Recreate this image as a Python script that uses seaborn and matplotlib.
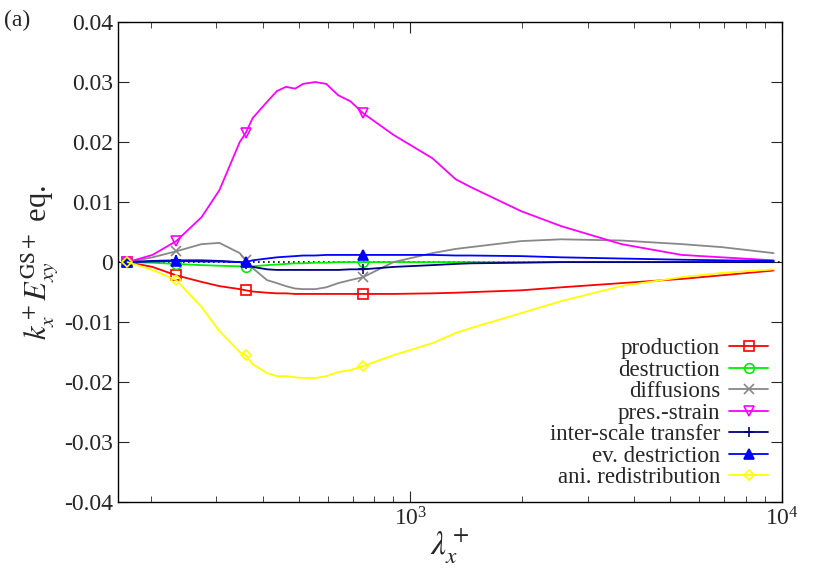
import numpy as np
import pandas as pd
import matplotlib
matplotlib.use("Agg")
import matplotlib.pyplot as plt
import seaborn as sns

sns.set_style("ticks")
plt.rcParams['font.family'] = 'Liberation Serif'
plt.rcParams['mathtext.fontset'] = 'stix'

lam = [173, 202, 234, 274, 306, 347, 360, 376, 411, 437, 462, 489, 514, 554,
       593, 639, 689, 746, 900, 1146, 1324, 1453, 1984, 2544, 3696, 5370, 6883, 9500]

production = [0, -0.0008, -0.0022, -0.0033, -0.0040, -0.0045, -0.0047, -0.0049, -0.0051, -0.0052,
              -0.0052, -0.0053, -0.0053, -0.0053, -0.0053, -0.0053, -0.0053, -0.0053, -0.0053, -0.0052,
              -0.0051, -0.0050, -0.0047, -0.0042, -0.0035, -0.0028, -0.0022, -0.0014]
destruction = [0, -0.0001, -0.0003, -0.0005, -0.0006, -0.0007, -0.0008, -0.0007, -0.0005, -0.0004,
               -0.0003, -0.0002, -0.0002, -0.0001, -0.0001, 0, 0, 0, 0, 0, 0, 0, 0, 0, 0, 0, 0, 0]
diffusions = [0, 0.0008, 0.0018, 0.0030, 0.0032, 0.0015, 0.0003, -0.0010, -0.0030, -0.0035,
              -0.0040, -0.0044, -0.0045, -0.0045, -0.0042, -0.0035, -0.0030, -0.0025, 0.0, 0.0015,
              0.0022, 0.0025, 0.0035, 0.0038, 0.0036, 0.0030, 0.0025, 0.0015]
pres_strain = [0, 0.0012, 0.0035, 0.0075, 0.012, 0.020, 0.0215, 0.024, 0.0267, 0.0285,
               0.0292, 0.0289, 0.0297, 0.030, 0.0297, 0.0278, 0.0268, 0.0248, 0.0212, 0.0173,
               0.0138, 0.0125, 0.0085, 0.006, 0.003, 0.0012, 0.0008, 0.0003]
inter_scale = [0, 0.0002, 0.0003, 0.0003, 0.0002, 0.0, -0.0003, -0.0008, -0.0012, -0.0013,
               -0.0013, -0.0013, -0.0013, -0.0013, -0.0013, -0.0013, -0.0012, -0.0012, -0.0008, -0.0005,
               -0.0003, -0.0002, -0.0001, 0, 0, 0, 0, 0]
ev_destriction = [0, 0.0001, 0.0002, 0.0001, 0.0001, 0.0, 0.0, 0.0003, 0.0006, 0.0008,
                  0.0009, 0.0010, 0.0011, 0.0011, 0.0012, 0.0012, 0.0012, 0.0012, 0.0012, 0.0012,
                  0.0011, 0.0011, 0.0010, 0.0008, 0.0006, 0.0004, 0.0003, 0.0002]
ani_redistribution = [0, -0.0013, -0.0030, -0.0075, -0.0115, -0.0150, -0.0155, -0.0170, -0.0185, -0.0190,
                      -0.0190, -0.0192, -0.0193, -0.0193, -0.0190, -0.0183, -0.0180, -0.0173, -0.0155, -0.0135,
                      -0.0118, -0.0110, -0.0085, -0.0065, -0.0040, -0.0025, -0.0018, -0.0012]

series = [
    ("production", production, "#ff0000", "s", "none"),
    ("destruction", destruction, "#00ee00", "o", "none"),
    ("diffusions", diffusions, "#888888", "x", "none"),
    ("pres.-strain", pres_strain, "#ff00ff", "v", "none"),
    ("inter-scale transfer", inter_scale, "#000080", "+", "none"),
    ("ev. destriction", ev_destriction, "#0000ff", "^", "full"),
    ("ani. redistribution", ani_redistribution, "#ffff00", "D", "none"),
]

fig = plt.figure(figsize=(8.3, 5.72), dpi=100)
ax = fig.add_axes([0.142, 0.122, 0.8, 0.8395])

ax.axhline(0, color="black", ls=(0, (1, 2)), lw=1.2, zorder=1)
for name, vals, col, mk, fill in series:
    df = pd.DataFrame({"lam": lam, "v": vals})
    kw = dict(markerfacecolor="none") if fill == "none" else dict(markerfacecolor=col)
    sns.lineplot(data=df, x="lam", y="v", ax=ax, color=col, lw=1.3, label=name,
                 marker=mk, markersize=7 if mk != "D" else 5, markeredgecolor=col,
                 markeredgewidth=1.2, markevery=[0, 2, 6, 17], **kw)

ax.set_xscale("log")
ax.set_xlim(163, 1.0e4)
ax.set_ylim(-0.04, 0.04)
ax.set_yticks(np.arange(-0.04, 0.041, 0.01))
ax.set_yticklabels(["-0.04", "-0.03", "-0.02", "-0.01", "0", "0.01", "0.02", "0.03", "0.04"])
ax.tick_params(which="both", direction="in", top=True, right=True, labelsize=17)
ax.tick_params(which="major", length=8)
ax.tick_params(which="minor", length=4)
for s in ax.spines.values():
    s.set_linewidth(1.0)
    s.set_color("black")

ax.set_xlabel(r"$\lambda_x^+$", fontsize=24, labelpad=-2)
ax.set_ylabel(r"$k_x^+ E_{xy}^{\rm GS+}$ eq.", fontsize=22, labelpad=2)
fig.text(0.005, 0.955, "(a)", fontsize=17)

ax.legend(loc="lower right", markerfirst=False, frameon=False, fontsize=16.5,
          handlelength=1.7, labelspacing=0.02, borderaxespad=0.2, handletextpad=0.4)

fig.savefig("out.png", dpi=100)
